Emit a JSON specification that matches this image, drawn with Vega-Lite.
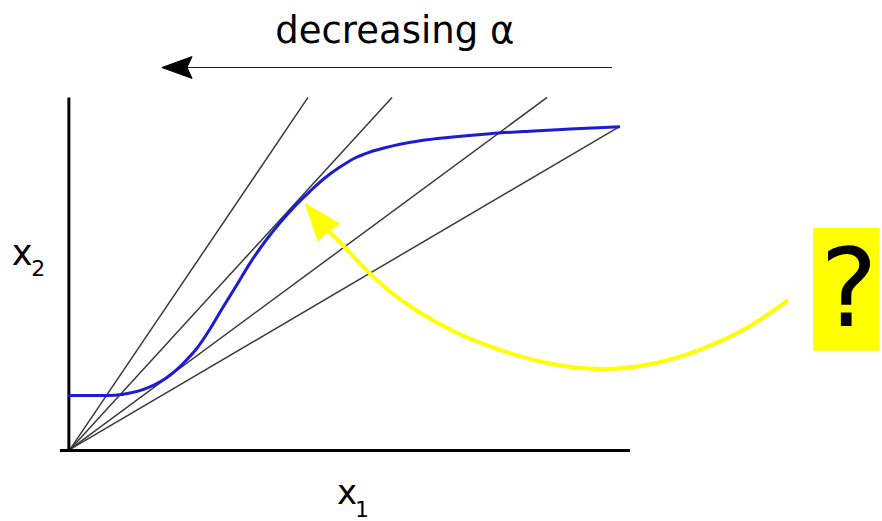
{
  "$schema": "https://vega.github.io/schema/vega-lite/v6.json",
  "width": 882,
  "height": 521,
  "padding": 0,
  "autosize": {"type": "fit", "contains": "padding"},
  "background": "white",
  "config": {"view": {"stroke": null}},
  "datasets": {
    "axes": [
      {"u0": -0.018, "v0": -0.003, "u1": 1.0, "v1": -0.003},
      {"u0": -0.002, "v0": -0.003, "u1": -0.002, "v1": 1.0}
    ],
    "rays": [
      {"u0": 0, "v0": 0, "u1": 0.425, "v1": 1.0},
      {"u0": 0, "v0": 0, "u1": 0.575, "v1": 1.0},
      {"u0": 0, "v0": 0, "u1": 0.852, "v1": 1.0},
      {"u0": 0, "v0": 0, "u1": 0.982, "v1": 0.918}
    ],
    "curve": [
      {"u": -0.004, "v": 0.153}, {"u": 0.054, "v": 0.153}, {"u": 0.080, "v": 0.154},
      {"u": 0.107, "v": 0.160}, {"u": 0.134, "v": 0.172}, {"u": 0.161, "v": 0.192},
      {"u": 0.182, "v": 0.215}, {"u": 0.205, "v": 0.249}, {"u": 0.227, "v": 0.288},
      {"u": 0.250, "v": 0.342}, {"u": 0.271, "v": 0.398}, {"u": 0.295, "v": 0.460},
      {"u": 0.321, "v": 0.528}, {"u": 0.348, "v": 0.590}, {"u": 0.375, "v": 0.644},
      {"u": 0.402, "v": 0.692}, {"u": 0.429, "v": 0.734}, {"u": 0.455, "v": 0.771},
      {"u": 0.482, "v": 0.802}, {"u": 0.509, "v": 0.828}, {"u": 0.536, "v": 0.845},
      {"u": 0.5625, "v": 0.857}, {"u": 0.589, "v": 0.867}, {"u": 0.625, "v": 0.877},
      {"u": 0.679, "v": 0.887}, {"u": 0.750, "v": 0.897}, {"u": 0.821, "v": 0.904},
      {"u": 0.893, "v": 0.910}, {"u": 0.982, "v": 0.917}
    ],
    "pointer": [
      {"k": 0, "u": 0.461, "v": 0.621}, {"k": 1, "u": 0.482, "v": 0.590},
      {"k": 2, "u": 0.530, "v": 0.506}, {"k": 3, "u": 0.589, "v": 0.421},
      {"k": 4, "u": 0.679, "v": 0.336}, {"k": 5, "u": 0.768, "v": 0.280},
      {"k": 6, "u": 0.857, "v": 0.240}, {"k": 7, "u": 0.946, "v": 0.223},
      {"k": 8, "u": 1.036, "v": 0.237}, {"k": 9, "u": 1.125, "v": 0.280},
      {"k": 10, "u": 1.214, "v": 0.345}, {"k": 11, "u": 1.282, "v": 0.424}
    ],
    "pointerHead": [
      {"k": 0, "u": 0.420, "v": 0.698}, {"k": 1, "u": 0.482, "v": 0.641},
      {"k": 2, "u": 0.461, "v": 0.621}, {"k": 3, "u": 0.443, "v": 0.593},
      {"k": 4, "u": 0.420, "v": 0.698}
    ],
    "alphaArrow": [
      {"u0": 0.968, "v0": 1.085, "u1": 0.205, "v1": 1.085}
    ],
    "alphaHead": [
      {"k": 0, "u": 0.164, "v": 1.085}, {"k": 1, "u": 0.218, "v": 1.116},
      {"k": 2, "u": 0.209, "v": 1.085}, {"k": 3, "u": 0.218, "v": 1.054},
      {"k": 4, "u": 0.164, "v": 1.085}
    ],
    "box": [
      {"u0": 1.327, "v0": 0.280, "u1": 1.446, "v1": 0.630}
    ],
    "title": [
      {"t": "decreasing α", "u": 0.580, "v": 1.155}
    ],
    "labels": [
      {"t": "x", "u": -0.104, "v": 0.523, "size": 35},
      {"t": "2", "u": -0.069, "v": 0.492, "size": 22},
      {"t": "x", "u": 0.477, "v": -0.155, "size": 34},
      {"t": "1", "u": 0.509, "v": -0.192, "size": 22}
    ],
    "question": [
      {"t": "?", "u": 1.391, "v": 0.350}
    ]
  },
  "layer": [
    {
      "data": {"name": "box"},
      "mark": {"type": "rect", "color": "#ffff00"},
      "encoding": {
        "x": {"field": "u0", "type": "quantitative", "scale": {"domain": [-0.125, 1.45], "nice": false, "zero": false}, "axis": null},
        "x2": {"field": "u1"},
        "y": {"field": "v0", "type": "quantitative", "scale": {"domain": [-0.19492, 1.27684], "nice": false, "zero": false}, "axis": null},
        "y2": {"field": "v1"}
      }
    },
    {
      "data": {"name": "rays"},
      "mark": {"type": "rule", "color": "#3a3a3a", "strokeWidth": 1.5},
      "encoding": {
        "x": {"field": "u0", "type": "quantitative"},
        "x2": {"field": "u1"},
        "y": {"field": "v0", "type": "quantitative"},
        "y2": {"field": "v1"}
      }
    },
    {
      "data": {"name": "axes"},
      "mark": {"type": "rule", "color": "#000000", "strokeWidth": 3},
      "encoding": {
        "x": {"field": "u0", "type": "quantitative"},
        "x2": {"field": "u1"},
        "y": {"field": "v0", "type": "quantitative"},
        "y2": {"field": "v1"}
      }
    },
    {
      "data": {"name": "curve"},
      "mark": {"type": "line", "color": "#1c1cd6", "strokeWidth": 3, "interpolate": "monotone"},
      "encoding": {
        "x": {"field": "u", "type": "quantitative"},
        "y": {"field": "v", "type": "quantitative"}
      }
    },
    {
      "data": {"name": "pointer"},
      "mark": {"type": "line", "color": "#ffff00", "strokeWidth": 4, "interpolate": "basis"},
      "encoding": {
        "x": {"field": "u", "type": "quantitative"},
        "y": {"field": "v", "type": "quantitative"},
        "order": {"field": "k", "type": "quantitative"}
      }
    },
    {
      "data": {"name": "pointerHead"},
      "mark": {"type": "line", "stroke": "#ffff00", "fill": "#ffff00", "strokeWidth": 1},
      "encoding": {
        "x": {"field": "u", "type": "quantitative"},
        "y": {"field": "v", "type": "quantitative"},
        "order": {"field": "k", "type": "quantitative"}
      }
    },
    {
      "data": {"name": "alphaArrow"},
      "mark": {"type": "rule", "color": "#222222", "strokeWidth": 1.2},
      "encoding": {
        "x": {"field": "u0", "type": "quantitative"},
        "x2": {"field": "u1"},
        "y": {"field": "v0", "type": "quantitative"},
        "y2": {"field": "v1"}
      }
    },
    {
      "data": {"name": "alphaHead"},
      "mark": {"type": "line", "stroke": "#000000", "fill": "#000000", "strokeWidth": 1},
      "encoding": {
        "x": {"field": "u", "type": "quantitative"},
        "y": {"field": "v", "type": "quantitative"},
        "order": {"field": "k", "type": "quantitative"}
      }
    },
    {
      "data": {"name": "title"},
      "mark": {"type": "text", "font": "DejaVu Sans", "baseline": "alphabetic", "align": "center", "fontSize": 37, "color": "#000000"},
      "encoding": {
        "x": {"field": "u", "type": "quantitative"},
        "y": {"field": "v", "type": "quantitative"},
        "text": {"field": "t"}
      }
    },
    {
      "data": {"name": "labels"},
      "mark": {"type": "text", "font": "DejaVu Sans", "baseline": "alphabetic", "align": "left", "color": "#000000"},
      "encoding": {
        "x": {"field": "u", "type": "quantitative"},
        "y": {"field": "v", "type": "quantitative"},
        "text": {"field": "t"},
        "size": {"field": "size", "type": "quantitative", "scale": null}
      }
    },
    {
      "data": {"name": "question"},
      "mark": {"type": "text", "font": "DejaVu Sans", "baseline": "alphabetic", "align": "center", "fontSize": 108, "color": "#000000"},
      "encoding": {
        "x": {"field": "u", "type": "quantitative"},
        "y": {"field": "v", "type": "quantitative"},
        "text": {"field": "t"}
      }
    }
  ]
}
